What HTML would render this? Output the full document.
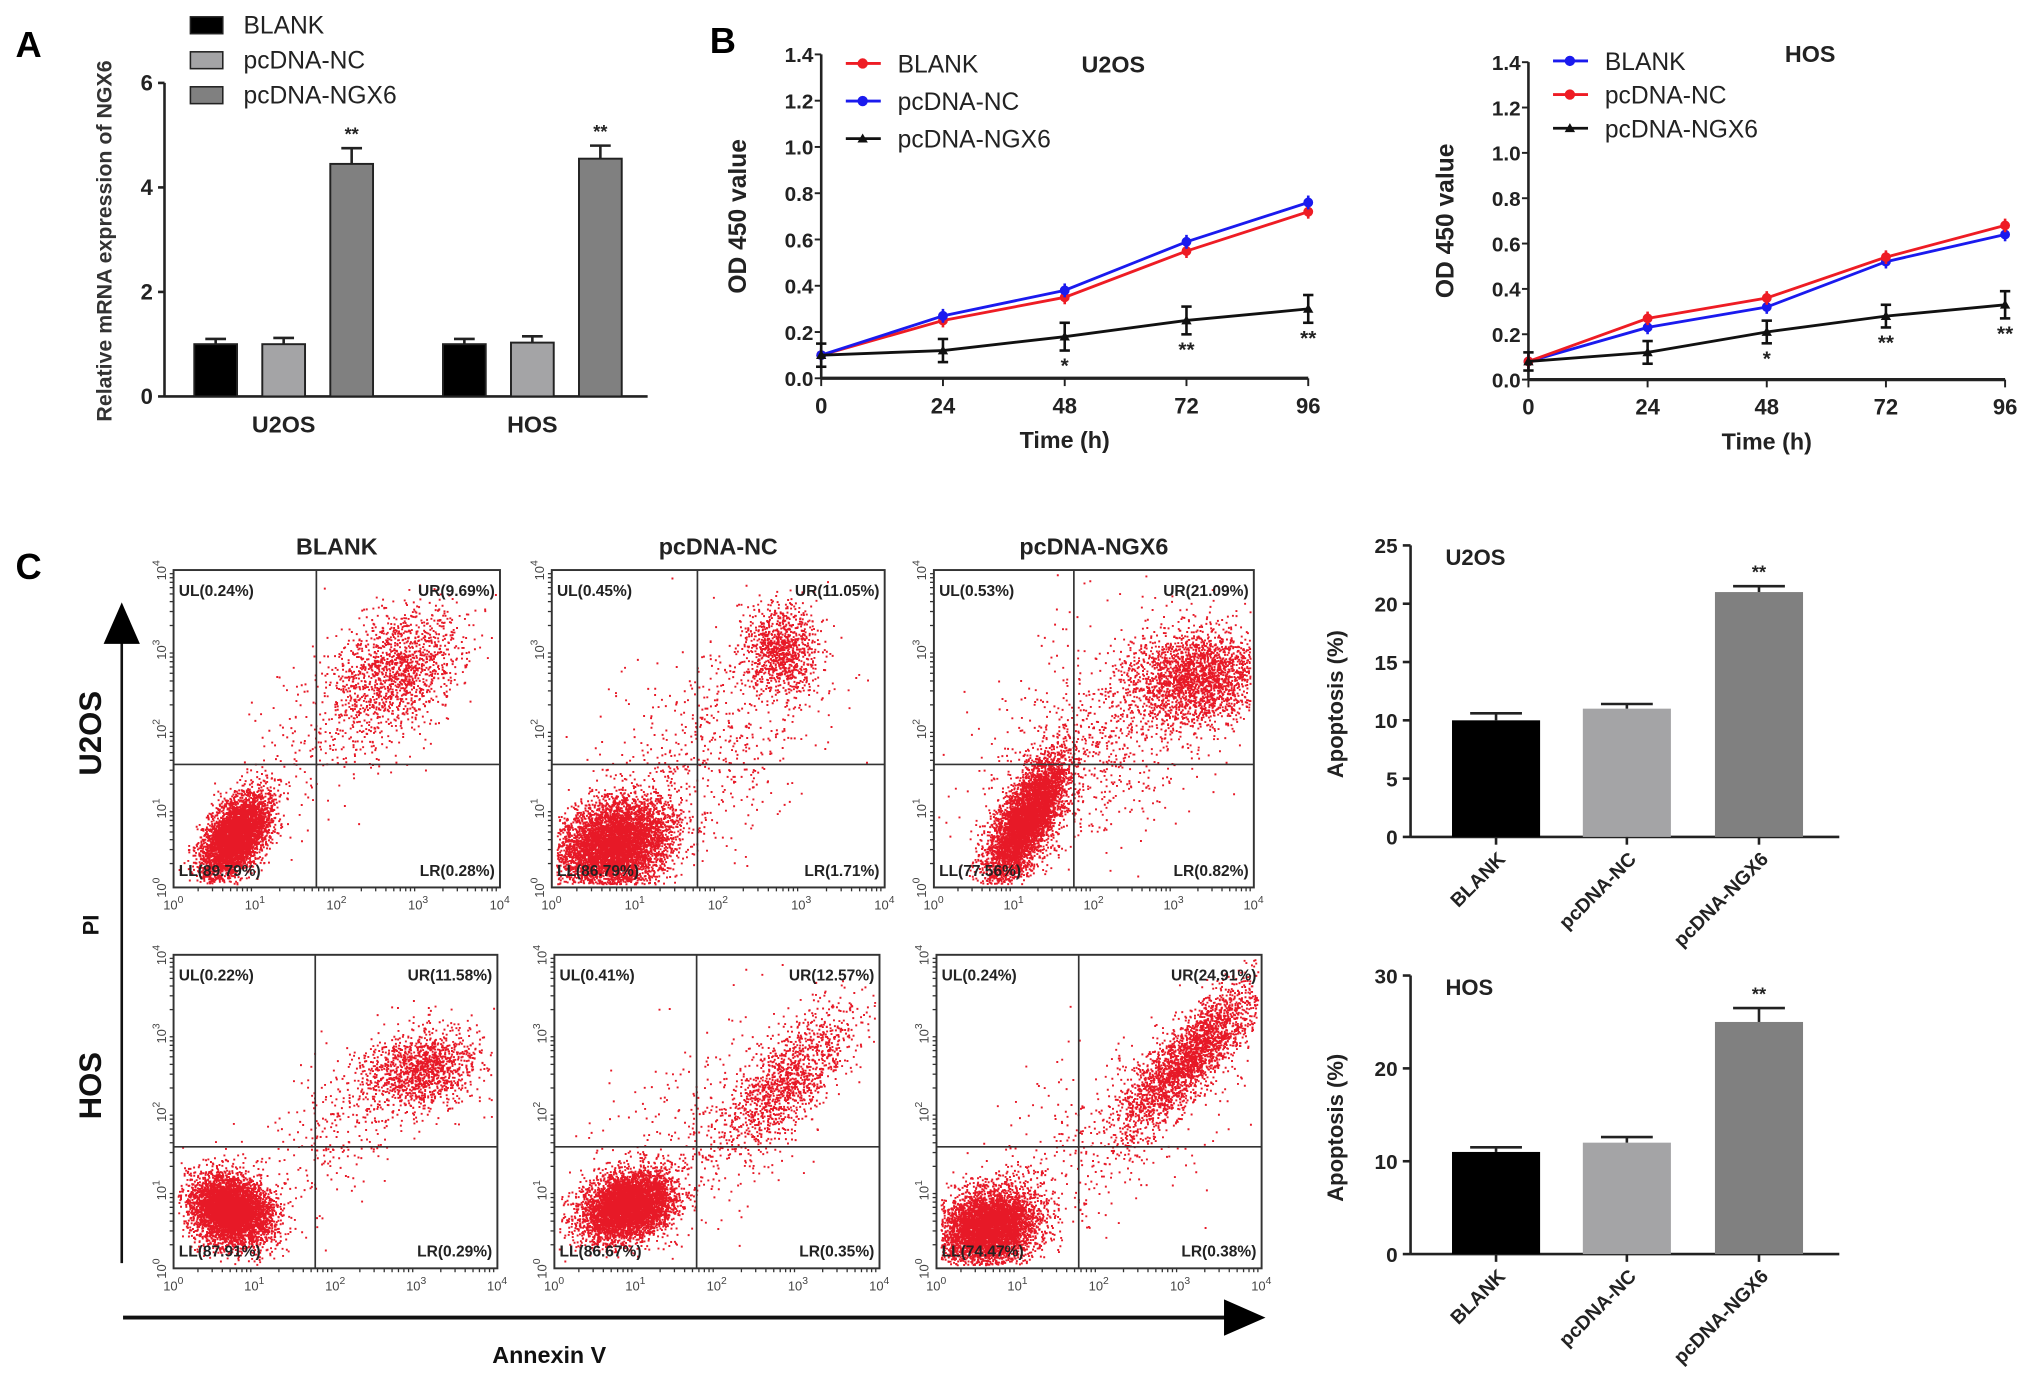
<!DOCTYPE html>
<html><head><meta charset="utf-8"><style>
html,body{margin:0;padding:0;background:#fff}
svg{display:block}
text{font-family:"Liberation Sans",sans-serif}
</style></head><body>
<svg id="fig" width="2031" height="1394" viewBox="0 0 1568 1076" preserveAspectRatio="none" xmlns="http://www.w3.org/2000/svg">
<rect width="1568" height="1076" fill="#fff"/>
<text x="12" y="44" font-size="28" font-weight="bold">A</text>
<text x="548" y="41" font-size="28" font-weight="bold">B</text>
<text x="12" y="447" font-size="28" font-weight="bold">C</text>
<g id="gA"></g>
<g id="gB1"></g>
<g id="gB2"></g>
<g id="gC"></g>
<g id="gD1"></g>
<g id="gD2"></g>
</svg>
<script>
// ---- Data ----
const groupsA = ["BLANK","pcDNA-NC","pcDNA-NGX6"];
const cellLinesA = ["U2OS","HOS"];
const u2osExpr = [1.0, 1.0, 4.45];
const u2osExprErr = [0.1, 0.12, 0.3];
const hosExpr = [1.0, 1.03, 4.55];
const hosExprErr = [0.1, 0.12, 0.25];
const ticksA = [0,2,4,6];

const timePoints = [0,24,48,72,96];
const odTicks = [0,0.2,0.4,0.6,0.8,1.0,1.2,1.4];
const u2osBlank = [0.10,0.25,0.35,0.55,0.72];
const u2osNC = [0.10,0.27,0.38,0.59,0.76];
const u2osNGX6 = [0.10,0.12,0.18,0.25,0.30];
const u2osNGX6Err = [0.05,0.05,0.06,0.06,0.06];
const u2osStars = ["","","*","**","**"];
const hosBlank = [0.08,0.23,0.32,0.52,0.64];
const hosNC = [0.08,0.27,0.36,0.54,0.68];
const hosNGX6 = [0.08,0.12,0.21,0.28,0.33];
const hosNGX6Err = [0.04,0.05,0.05,0.05,0.06];
const hosStars = ["","","*","**","**"];

const apopGroups = ["BLANK","pcDNA-NC","pcDNA-NGX6"];
const u2osApop = [10, 11, 21];
const u2osApopErr = [0.6, 0.4, 0.5];
const u2osApopTicks = [0,5,10,15,20,25];
const hosApop = [11, 12, 25];
const hosApopErr = [0.5, 0.6, 1.5];
const hosApopTicks = [0,10,20,30];

const flowTitles = ["BLANK","pcDNA-NC","pcDNA-NGX6"];
const flowLabels = [
 ["UL(0.24%)","UR(9.69%)","LL(89.79%)","LR(0.28%)"],
 ["UL(0.45%)","UR(11.05%)","LL(86.79%)","LR(1.71%)"],
 ["UL(0.53%)","UR(21.09%)","LL(77.56%)","LR(0.82%)"],
 ["UL(0.22%)","UR(11.58%)","LL(87.91%)","LR(0.29%)"],
 ["UL(0.41%)","UR(12.57%)","LL(86.67%)","LR(0.35%)"],
 ["UL(0.24%)","UR(24.91%)","LL(74.47%)","LR(0.38%)"]];
// clusters: [cx, cy, sx, sy, n, rho] in log-decade units
const flowClusters = [
 [[0.75,0.65,0.2,0.26,4500,0.5],[2.75,2.75,0.4,0.4,1400,0.3],[1.9,1.9,0.6,0.6,250,0.6]],
 [[0.75,0.55,0.33,0.28,5500,0.2],[2.75,3.0,0.22,0.28,1000,0],[1.9,1.8,0.7,0.8,600,0.5]],
 [[1.15,0.85,0.25,0.4,5000,0.7],[3.3,2.65,0.42,0.3,2200,0.1],[2.1,1.9,0.8,0.8,900,0.5]],
 [[0.7,0.75,0.25,0.22,5000,-0.2],[3.1,2.55,0.35,0.25,1300,0.2],[2.1,1.9,0.6,0.6,350,0.7]],
 [[0.9,0.8,0.28,0.22,5000,0.3],[2.85,2.4,0.4,0.45,1300,0.7],[1.9,1.8,0.8,0.8,350,0.5]],
 [[0.65,0.55,0.3,0.24,5000,0.2],[3.1,2.7,0.45,0.5,2600,0.85],[2.0,1.6,0.8,0.7,350,0.5]]];
const gateX = 1.75, gateY = 1.55;

const NS="http://www.w3.org/2000/svg";
function mk(parent, tag, attrs, txt){
  const e=document.createElementNS(NS,tag);
  for(const k in attrs) e.setAttribute(k,attrs[k]);
  if(txt!==undefined) e.textContent=txt;
  parent.appendChild(e); return e;
}

// ---- Panel A ----
(function(){
  const g=document.getElementById('gA');
  const x0=127, y0=306, yTop=64, vmax=6;
  const y=v=>y0-(v/vmax)*(y0-yTop);
  mk(g,'line',{x1:x0,y1:yTop,x2:x0,y2:y0,stroke:'#222','stroke-width':2});
  mk(g,'line',{x1:x0,y1:y0,x2:500,y2:y0,stroke:'#222','stroke-width':2});
  ticksA.forEach(t=>{
    mk(g,'line',{x1:x0-5,y1:y(t),x2:x0,y2:y(t),stroke:'#222','stroke-width':2});
    const tl=mk(g,'text',{x:x0-9,y:y(t)+6,'font-size':17,'font-weight':'bold','text-anchor':'end',fill:'#222'},t);
    
    
  });
  const yt=mk(g,'text',{x:0,y:0,'font-size':16.5,'font-weight':'bold',fill:'#333','text-anchor':'middle',transform:'translate(86,186) rotate(-90)'},'Relative mRNA expression of NGX6');
   
  const fills=['#000','#a4a4a6','#808080'];
  const groupStarts=[150,342], bw=33, gap=52.5;
  [u2osExpr,hosExpr].forEach((vals,gi)=>{
    const errs=gi?hosExprErr:u2osExprErr;
    vals.forEach((v,i)=>{
      const bx=groupStarts[gi]+i*gap;
      const r=mk(g,'rect',{x:bx,y:y(v),width:bw,height:y0-y(v),fill:fills[i],stroke:'#222','stroke-width':1.5});
      
      
      const cx=bx+bw/2;
      mk(g,'line',{x1:cx,y1:y(v),x2:cx,y2:y(v+errs[i]),stroke:'#222','stroke-width':2});
      mk(g,'line',{x1:cx-8,y1:y(v+errs[i]),x2:cx+8,y2:y(v+errs[i]),stroke:'#222','stroke-width':2});
      if(i===2) mk(g,'text',{x:cx,y:y(v+errs[i])-6,'font-size':14,'font-weight':'bold','text-anchor':'middle',fill:'#222'},'**');
    });
    const lab=mk(g,'text',{x:groupStarts[gi]+gap+bw/2,y:334,'font-size':18,'font-weight':'bold','text-anchor':'middle',fill:'#222'},cellLinesA[gi]);
     
  });
  groupsA.forEach((name,i)=>{
    const ly=13+i*27;
    const s=mk(g,'rect',{x:147,y:ly,width:25,height:13,fill:fills[i],stroke:'#222','stroke-width':1.2});
     
    const t=mk(g,'text',{x:188,y:ly+13,'font-size':19,fill:'#222'},name);
     
  });
})();

// ---- Panel B line charts ----
function lineChart(gid, x0, x1, y0, yTop, title, titleX, titleY, series, colors, names, errs, stars, legY, legStep){
  const g=document.getElementById(gid);
  const y=v=>y0-(v/1.4)*(y0-yTop);
  const x=t=>x0+(t/96)*(x1-x0);
  mk(g,'line',{x1:x0,y1:yTop,x2:x0,y2:y0,stroke:'#222','stroke-width':2});
  mk(g,'line',{x1:x0,y1:y0,x2:x1,y2:y0,stroke:'#222','stroke-width':2.5});
  odTicks.forEach(t=>{
    mk(g,'line',{x1:x0-5,y1:y(t),x2:x0,y2:y(t),stroke:'#222','stroke-width':1.5});
    const tl=mk(g,'text',{x:x0-6,y:y(t)+6,'font-size':16,'font-weight':'bold','text-anchor':'end',fill:'#222'},t.toFixed(1));
     
  });
  timePoints.forEach(t=>{
    mk(g,'line',{x1:x(t),y1:y0,x2:x(t),y2:y0+6,stroke:'#222','stroke-width':1.5});
    const tl=mk(g,'text',{x:x(t),y:y0+27,'font-size':17,'font-weight':'bold','text-anchor':'middle',fill:'#222'},t);
     
  });
  const xt=mk(g,'text',{x:(x0+x1)/2,y:y0+54,'font-size':18,'font-weight':'bold','text-anchor':'middle',fill:'#222'},'Time (h)');
   
  const yt=mk(g,'text',{x:0,y:0,'font-size':19,'font-weight':'bold','text-anchor':'middle',fill:'#222',transform:'translate('+(x0-58)+','+(y(0.7))+') rotate(-90)'},'OD 450 value');
   
  const tt=mk(g,'text',{x:titleX,y:titleY,'font-size':18,'font-weight':'bold',fill:'#222'},title);
   
  series.forEach((vals,si)=>{
    const pts=vals.map((v,i)=>x(timePoints[i])+','+y(v)).join(' ');
    const pl=mk(g,'polyline',{points:pts,fill:'none',stroke:colors[si],'stroke-width':2.2});
    
    
    vals.forEach((v,i)=>{
      const e= si===2?errs[i]:0.03;
      mk(g,'line',{x1:x(timePoints[i]),y1:y(v-e),x2:x(timePoints[i]),y2:y(v+e),stroke:colors[si],'stroke-width':2});
      if(si===2){
        mk(g,'line',{x1:x(timePoints[i])-4,y1:y(v+e),x2:x(timePoints[i])+4,y2:y(v+e),stroke:colors[si],'stroke-width':2});
        mk(g,'line',{x1:x(timePoints[i])-4,y1:y(v-e),x2:x(timePoints[i])+4,y2:y(v-e),stroke:colors[si],'stroke-width':2});
        mk(g,'path',{d:'M'+(x(timePoints[i])-4)+','+(y(v)+3)+' l4,-7 l4,7z',fill:colors[si]});
      } else {
        const p=mk(g,'circle',{cx:x(timePoints[i]),cy:y(v),r:3.8,fill:colors[si]});
         
      }
      if(si===2 && stars[i]) mk(g,'text',{x:x(timePoints[i]),y:y(v-e)+17,'font-size':16,'font-weight':'bold','text-anchor':'middle',fill:'#222'},stars[i]);
    });
  });
  names.forEach((n,i)=>{
    const lx=x0+19, ly=legY+i*legStep;
    mk(g,'line',{x1:lx,y1:ly,x2:lx+27,y2:ly,stroke:colors[i],'stroke-width':2.2});
    if(i===2) mk(g,'path',{d:'M'+(lx+9)+','+(ly+3)+' l4,-7 l4,7z',fill:colors[i]});
    else mk(g,'circle',{cx:lx+13,cy:ly,r:4,fill:colors[i]});
    const t=mk(g,'text',{x:lx+40,y:ly+7,'font-size':19,fill:'#222'},n);
     
  });
}
lineChart('gB1',634,1010,292,42,'U2OS',835,56,[u2osBlank,u2osNC,u2osNGX6],['#ee1c24','#1a1aee','#111'],['BLANK','pcDNA-NC','pcDNA-NGX6'],u2osNGX6Err,u2osStars,49,29);
lineChart('gB2',1180,1548,293,48,'HOS',1378,48,[hosBlank,hosNC,hosNGX6],['#1a1aee','#ee1c24','#111'],['BLANK','pcDNA-NC','pcDNA-NGX6'],hosNGX6Err,hosStars,47,26);

// ---- Panel C flow plots ----
(function(){
  const g=document.getElementById('gC');
  const boxes=[[134,440,386,685],[426,440,683,685],[721,440,968,685],[134,737,384,979],[428,737,679,979],[723,737,974,979]];
  let a=987654321;
  const rnd=()=>{a|=0;a=a+0x6D2B79F5|0;let t=Math.imul(a^a>>>15,1|a);t=t+Math.imul(t^t>>>7,61|t)^t;return ((t^t>>>14)>>>0)/4294967296;};
  const gauss=()=>{let u=rnd()||1e-6,v=rnd();return Math.sqrt(-2*Math.log(u))*Math.cos(2*Math.PI*v);};
  boxes.forEach((b,bi)=>{
    const [l,t,r,bt]=b, w=r-l, h=bt-t;
    const X=d=>l+d/4*w, Y=d=>bt-d/4*h;
    const pg=mk(g,'g',{fill:'#e4000f'});
     
    let d='';
    flowClusters[bi].forEach(c=>{
      const rho=c[5];
      for(let k=0;k<c[4];k++){
        const z1=gauss(), z2=gauss();
        const dx=c[0]+z1*c[2], dy=c[1]+(rho*z1+Math.sqrt(1-rho*rho)*z2)*c[3];
        if(dx<0.05||dx>3.95||dy<0.05||dy>3.95) continue;
        d+='M'+X(dx).toFixed(1)+' '+Y(dy).toFixed(1)+'h1.5v1.5h-1.5z';
      }
    });
    mk(pg,'path',{d:d,'fill-opacity':0.9});
    const fr=mk(g,'rect',{x:l,y:t,width:w,height:h,fill:'none',stroke:'#333','stroke-width':1.5});
     
    mk(g,'line',{x1:X(gateX),y1:t,x2:X(gateX),y2:bt,stroke:'#333','stroke-width':1.3});
    mk(g,'line',{x1:l,y1:Y(gateY),x2:r,y2:Y(gateY),stroke:'#333','stroke-width':1.3});
    for(let dd=0;dd<=4;dd++){
      const tx=mk(g,'text',{x:X(dd)-8,y:bt+17,'font-size':10,fill:'#444'},'10');
      mk(tx,'tspan',{dy:-5,'font-size':8},String(dd));
      const ty=mk(g,'text',{x:0,y:0,'font-size':10,fill:'#444',transform:'translate('+(l-6)+','+(Y(dd)+8)+') rotate(-90)'},'10');
      mk(ty,'tspan',{dy:-5,'font-size':8},String(dd));
      if(dd<4) for(let m=2;m<10;m++){
        const o=Math.log10(m);
        mk(g,'line',{x1:X(dd+o),y1:bt,x2:X(dd+o),y2:bt+3,stroke:'#333','stroke-width':1});
        mk(g,'line',{x1:l-3,y1:Y(dd+o),x2:l,y2:Y(dd+o),stroke:'#333','stroke-width':1});
      }
    }
    const L=flowLabels[bi];
    const ql=[[l+4,t+20,'start'],[r-4,t+20,'end'],[l+4,bt-9,'start'],[r-4,bt-9,'end']];
    L.forEach((s,qi)=>{
      const q=mk(g,'text',{x:ql[qi][0],y:ql[qi][1],'font-size':12,'font-weight':'bold','text-anchor':ql[qi][2],fill:'#222'},s);
       
    });
    if(bi<3){
      const tt=mk(g,'text',{x:(l+r)/2,y:428,'font-size':18,'font-weight':'bold','text-anchor':'middle',fill:'#222'},flowTitles[bi]);
       
    }
  });
  mk(g,'line',{x1:94,y1:975,x2:94,y2:495,stroke:'#111','stroke-width':2});
  mk(g,'path',{d:'M80,497 L94,465 L108,497 Z',fill:'#000'});
  mk(g,'line',{x1:95,y1:1017,x2:950,y2:1017,stroke:'#111','stroke-width':3});
  mk(g,'path',{d:'M945,1003 L977,1017 L945,1031 Z',fill:'#000'});
  const lab=(x,y,s,fs,rot,name)=>{const t=mk(g,'text',{x:0,y:0,'font-size':fs,'font-weight':'bold','text-anchor':'middle',fill:'#111',transform:'translate('+x+','+y+')'+(rot?' rotate(-90)':'')},s);};
  lab(78,566,'U2OS',24,true,'row-label-u2os');
  lab(78,838,'HOS',24,true,'row-label-hos');
  lab(76,714,'PI',17,true,'y-axis-title-pi');
  lab(424,1052,'Annexin V',18,false,'x-axis-title-annexin');
})();

// ---- Apoptosis bar charts ----
function apopChart(gid, y0, yTop, vmax, ticks, vals, errs, title){
  const g=document.getElementById(gid);
  const x0=1089, x1=1420;
  const y=v=>y0-(v/vmax)*(y0-yTop);
  mk(g,'line',{x1:x0,y1:yTop,x2:x0,y2:y0,stroke:'#222','stroke-width':2});
  mk(g,'line',{x1:x0,y1:y0,x2:x1,y2:y0,stroke:'#222','stroke-width':2});
  ticks.forEach(t=>{
    mk(g,'line',{x1:x0-6,y1:y(t),x2:x0,y2:y(t),stroke:'#222','stroke-width':2});
    const tl=mk(g,'text',{x:x0-10,y:y(t)+6,'font-size':16,'font-weight':'bold','text-anchor':'end',fill:'#222'},t);
     
  });
  const yt=mk(g,'text',{x:0,y:0,'font-size':17,'font-weight':'bold','text-anchor':'middle',fill:'#222',transform:'translate(1037,'+((y0+yTop)/2+10)+') rotate(-90)'},'Apoptosis  (%)');
   
  const tt=mk(g,'text',{x:1116,y:yTop+15,'font-size':17,'font-weight':'bold',fill:'#222'},title);
   
  const fills=['#000','#a4a4a6','#808080'];
  const bw=68, centers=[1155,1256,1358];
  vals.forEach((v,i)=>{
    const mx=centers[i], bx=mx-bw/2;
    const r=mk(g,'rect',{x:bx,y:y(v),width:bw,height:y0-y(v),fill:fills[i]});
    
    
    mk(g,'line',{x1:mx,y1:y(v),x2:mx,y2:y(v+errs[i]),stroke:'#222','stroke-width':2});
    mk(g,'line',{x1:mx-20,y1:y(v+errs[i]),x2:mx+20,y2:y(v+errs[i]),stroke:'#222','stroke-width':2});
    mk(g,'line',{x1:mx,y1:y0,x2:mx,y2:y0+6,stroke:'#222','stroke-width':2});
    if(i===2) mk(g,'text',{x:mx,y:y(v+errs[i])-6,'font-size':14,'font-weight':'bold','text-anchor':'middle',fill:'#222'},'**');
    const lb=mk(g,'text',{x:0,y:0,'font-size':15,'font-weight':'bold','text-anchor':'end',fill:'#222',transform:'translate('+(mx+8)+','+(y0+18)+') rotate(-45)'},apopGroups[i]);
     
  });
}
apopChart('gD1',646,421,25,u2osApopTicks,u2osApop,u2osApopErr,'U2OS');
apopChart('gD2',968,753,30,hosApopTicks,hosApop,hosApopErr,'HOS');
</script>
</body></html>
